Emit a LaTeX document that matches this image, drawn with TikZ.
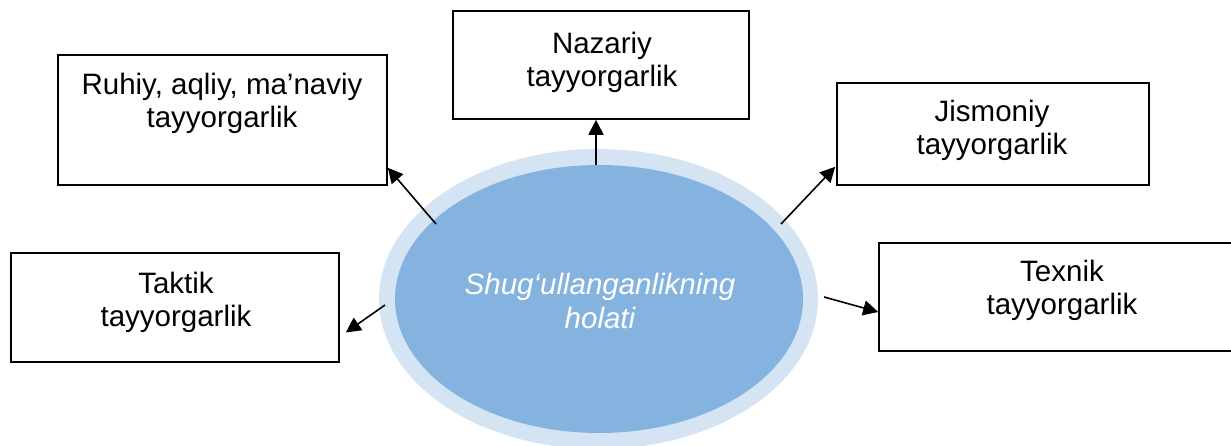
\documentclass[tikz,border=0pt]{standalone}
\usepackage{fontspec}
\setmainfont{Liberation Sans}
\usetikzlibrary{shapes.geometric,arrows.meta,calc}
\definecolor{ringblue}{RGB}{213,228,243}
\definecolor{coreblue}{RGB}{133,179,223}
\begin{document}
\begin{tikzpicture}[x=1pt,y=-1pt,
  box/.style={draw=black, line width=1.6pt, rectangle, inner sep=0pt},
  lbl/.style={font=\fontsize{29.5}{33}\selectfont, align=center, inner sep=0pt},
  arr/.style={-{Triangle[length=15pt,width=15pt]}, line width=1.6pt}]
\useasboundingbox (0,0) rectangle (1231,446);
% central ellipse
\node[ellipse, fill=ringblue, inner sep=0pt, minimum width=439pt, minimum height=300pt] (outer) at (598.5,299) {};
\node[ellipse, fill=coreblue, inner sep=0pt, minimum width=408pt, minimum height=268pt] (inner) at (599,299) {};
\node[lbl, text=white, font=\fontsize{29.5}{34}\selectfont\itshape] (innerT) at (600,301) {Shug‘ullanganlikning\\holati};
% boxes
\node[box, minimum width=296pt, minimum height=108pt] (naz) at (601,65) {};
\node[lbl] (nazT) at (602,62) {Nazariy\\tayyorgarlik};
\node[box, minimum width=329pt, minimum height=130pt] (ruh) at (222.5,120) {};
\node[lbl] (ruhT) at (222,103) {Ruhiy, aqliy, ma’naviy\\tayyorgarlik};
\node[box, minimum width=312pt, minimum height=102pt] (jis) at (993,134) {};
\node[lbl] (jisT) at (992,130.5) {Jismoniy\\tayyorgarlik};
\node[box, minimum width=328pt, minimum height=109pt] (tak) at (175,307.5) {};
\node[lbl] (takT) at (176,302) {Taktik\\tayyorgarlik};
\node[box, minimum width=366pt, minimum height=108pt] (tex) at (1062,297) {};
\node[lbl] (texT) at (1062,290) {Texnik\\tayyorgarlik};
% arrows
\draw[arr] ($(inner.center)+(-3,-134)$) -- ($(naz.south)+(-5,0)$);
\draw[arr] ($(inner.center)+(-163,-75)$) -- ($(ruh.south east)+(0,-18)$);
\draw[arr] ($(inner.center)+(182,-75)$) -- ($(jis.south west)+(-1,-19)$);
\draw[arr] ($(inner.center)+(225,-2)$) -- ($(tex.west)+(0,15)$);
\draw[arr] ($(inner.center)+(-214,6)$) -- ($(tak.east)+(6,25)$);
\end{tikzpicture}
\end{document}
